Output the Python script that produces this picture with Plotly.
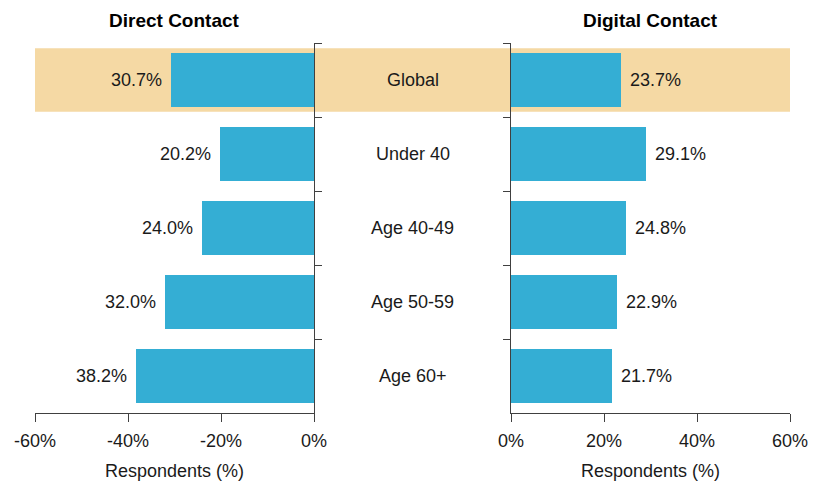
import plotly.graph_objects as go

categories = ["Global", "Under 40", "Age 40-49", "Age 50-59", "Age 60+"]
direct_values = [30.7, 20.2, 24.0, 32.0, 38.2]
digital_values = [23.7, 29.1, 24.8, 22.9, 21.7]
left_ticks = [-60, -40, -20, 0]
left_tick_labels = ["-60%", "-40%", "-20%", "0%"]
right_ticks = [0, 20, 40, 60]
right_tick_labels = ["0%", "20%", "40%", "60%"]
panel_titles = ["Direct Contact", "Digital Contact"]
axis_title = "Respondents (%)"

BAR = "#34AED4"
HIGHLIGHT = "#F5D9A4"
TEXT = "#1a1a1a"
AXIS = "#404040"
FONT = "Liberation Sans, Arial, Helvetica, sans-serif"
FS = 18

fig = go.Figure()
fig.add_trace(go.Bar(
    x=[-v for v in direct_values], y=categories, orientation="h",
    marker=dict(color=BAR, line=dict(width=0)), width=0.72,
    xaxis="x", yaxis="y", showlegend=False, hoverinfo="skip"))
fig.add_trace(go.Bar(
    x=digital_values, y=categories, orientation="h",
    marker=dict(color=BAR, line=dict(width=0)), width=0.72,
    xaxis="x2", yaxis="y2", showlegend=False, hoverinfo="skip"))

# Highlight band for the "Global" row
fig.add_shape(type="rect", xref="paper", yref="y", x0=0, x1=1, y0=-0.43, y1=0.43,
              fillcolor=HIGHLIGHT, line=dict(width=0), layer="below")

annotations = []
for c, v in zip(categories, direct_values):
    annotations.append(dict(x=-v, y=c, xref="x", yref="y", text=f"{v:.1f}%",
                            showarrow=False, xanchor="right", xshift=-7,
                            font=dict(size=FS, color=TEXT)))
for c, v in zip(categories, digital_values):
    annotations.append(dict(x=v, y=c, xref="x2", yref="y2", text=f"{v:.1f}%",
                            showarrow=False, xanchor="left", xshift=7,
                            font=dict(size=FS, color=TEXT)))
for c in categories:
    annotations.append(dict(x=0.5, y=c, xref="paper", yref="y", text=c,
                            showarrow=False, xanchor="center",
                            font=dict(size=FS, color=TEXT)))
ld = [0, 279 / 755]
rd = [476 / 755, 1]
for t, d in zip(panel_titles, [ld, rd]):
    annotations.append(dict(x=(d[0] + d[1]) / 2, y=1.062, xref="paper", yref="paper",
                            text=f"<b>{t}</b>", showarrow=False, xanchor="center",
                            yanchor="middle", font=dict(size=19, color="#000000")))
    annotations.append(dict(x=(d[0] + d[1]) / 2, y=0, xref="paper", yref="paper",
                            text=axis_title, showarrow=False, xanchor="center",
                            yanchor="middle", yshift=-58,
                            font=dict(size=FS, color=TEXT)))

common_x = dict(showgrid=False, zeroline=False, showline=True, linecolor=AXIS,
                linewidth=1, ticks="outside", ticklen=8, tickcolor=AXIS,
                tickfont=dict(size=FS, color=TEXT), automargin=False,
                ticklabelstandoff=3)
common_y = dict(type="category", categoryorder="array", categoryarray=categories,
                autorange=False, range=[4.5, -0.5], showgrid=False, zeroline=False,
                showline=True, linecolor=AXIS, linewidth=1, ticks="outside",
                tickson="boundaries", ticklen=7, tickcolor=AXIS, showticklabels=False,
                automargin=False)

fig.update_layout(
    width=814, height=475,
    margin=dict(l=27, r=32, t=35, b=70),
    paper_bgcolor="white", plot_bgcolor="rgba(0,0,0,0)",
    font=dict(family=FONT, color=TEXT),
    bargap=0,
    xaxis=dict(domain=ld, range=[-60, 0], tickvals=left_ticks, ticktext=left_tick_labels,
               anchor="y", **common_x),
    xaxis2=dict(domain=rd, range=[0, 60], tickvals=right_ticks, ticktext=right_tick_labels,
                anchor="y2", **common_x),
    yaxis=dict(anchor="x", side="right", **common_y),
    yaxis2=dict(anchor="x2", side="left", **common_y),
    annotations=annotations,
)

fig.write_html("out.html")
